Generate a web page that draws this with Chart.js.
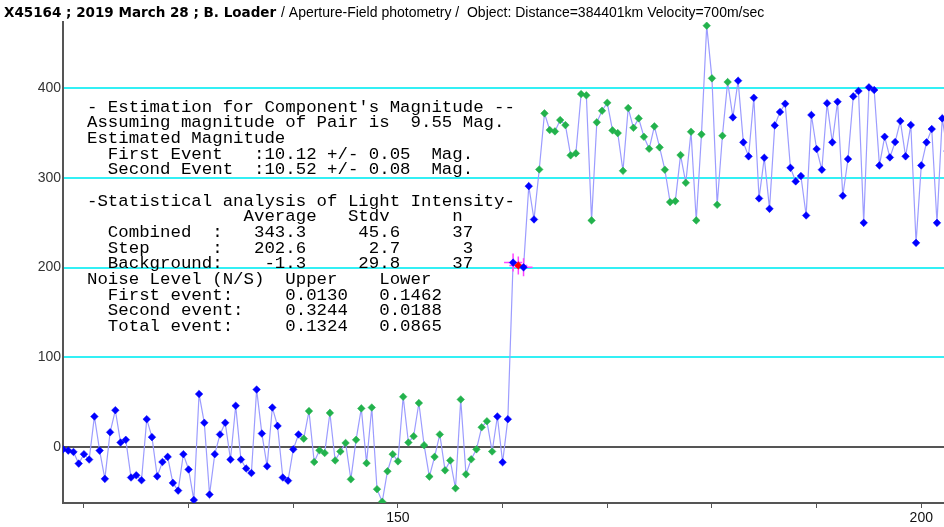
<!DOCTYPE html>
<html>
<head>
<meta charset="utf-8">
<script src="https://cdn.jsdelivr.net/npm/chart.js@4.4.1/dist/chart.umd.min.js"></script>
<style>
html, body { margin: 0; padding: 0; background: #fff; }
#wrap { position: relative; width: 944px; height: 527px; }
</style>
</head>
<body>
<div id="wrap"><canvas id="chart"></canvas></div>
<script>
// frame numbers (x) of every sample
const frames = [
    118, 118.5, 119, 119.5, 120, 120.5, 121, 121.5, 122, 122.5,
    123, 123.5, 124, 124.5, 125, 125.5, 126, 126.5, 127, 127.5,
    128, 128.5, 129, 129.5, 130, 130.5, 131, 131.5, 132, 132.5,
    133, 133.5, 134, 134.5, 135, 135.5, 136, 136.5, 137, 137.5,
    138, 138.5, 139, 139.5, 140, 140.5, 141, 141.5, 142, 142.5,
    143, 143.5, 144, 144.5, 145, 145.5, 146, 146.5, 147, 147.5,
    148, 148.5, 149, 149.5, 150, 150.5, 151, 151.5, 152, 152.5,
    153, 153.5, 154, 154.5, 155, 155.5, 156, 156.5, 157, 157.5,
    158, 158.5, 159, 159.5, 160, 160.5, 161, 161.5, 162, 162.5,
    163, 163.5, 164, 164.5, 165, 165.5, 166, 166.5, 167, 167.5,
    168, 168.5, 169, 169.5, 170, 170.5, 171, 171.5, 172, 172.5,
    173, 173.5, 174, 174.5, 175, 175.5, 176, 176.5, 177, 177.5,
    178, 178.5, 179, 179.5, 180, 180.5, 181, 181.5, 182, 182.5,
    183, 183.5, 184, 184.5, 185, 185.5, 186, 186.5, 187, 187.5,
    188, 188.5, 189, 189.5, 190, 190.5, 191, 191.5, 192, 192.5,
    193, 193.5, 194, 194.5, 195, 195.5, 196, 196.5, 197, 197.5,
    198, 198.5, 199, 199.5, 200, 200.5, 201, 201.5, 202, 202.5
];

// light intensity, split in the groups the program colours
const preEvent = [
    -2.6, -4, -5.5, -18.5, -8, -14, 34, -4, -35.5, 16.4,
    41, 5, 8, -34, -31.5, -37, 31, 11, -32.7, -16.7,
    -11, -40, -48.6, -8, -25, -59, 59, 27, -53, -8,
    14, 27, -14, 46, -14, -24, -29, 64, 15, -21.5,
    44, 23.5, -34, -37.5, -2.6, 14
];
const background = [
    9.3, 40, -16.7, -3.7, -6.7, 38, -15, -5, 4.5, -36,
    8, 43, -18, 44, -47, -61, -27, -8, -16, 56,
    5, 12, 49, 2, -33, -11, 14, -26, -15, -46,
    53, -30.5, -13.7, -2.6, 22, 28.7, -5
];
const approach = [34, -17, 31];
const step = [205.5, 202.3, 200.2];
const rise = [290.7, 253.6];
const combined = [
    309.3, 371.8, 353.2, 351.7, 364.3, 358.7, 325, 327.2, 393.3, 391.9,
    252.5, 361.8, 374.7, 383.6, 352.8, 349.8, 307.8, 377.7, 355.7, 366.2,
    345.7, 332.3, 357.3, 333.9, 309, 272.9, 274, 325.3, 294.4, 351.3,
    252.5, 348.4, 469.5, 410.8, 269.9, 346.8, 406.7
];
const postEvent = [
    367.3, 408.2, 339.5, 323.9, 389.2, 277, 322.3, 265.4, 358.4, 373.3,
    382.5, 311.1, 296, 302, 258, 370, 332, 309, 383, 339.5,
    384.7, 280, 320.8, 390.7, 396.7, 249.8, 400.8, 397.8, 313.8, 345.7,
    322.7, 339.8, 363.2, 323.9, 358.8, 227.5, 313.8, 339.5, 354.3, 249.8,
    366.2, 329.8
];

const xTickValues = [120, 130, 140, 150, 160, 170, 180, 190, 200];
const xTickLabels = [150, 200];
const yTickValues = [0, 100, 200, 300, 400];

const titleBold = "X45164 ; 2019 March 28 ; B. Loader";
const titleRest = " / Aperture-Field photometry /  Object: Distance=384401km Velocity=700m/sec";

const report = [
    "- Estimation for Component's Magnitude --",
    "Assuming magnitude of Pair is  9.55 Mag.",
    "Estimated Magnitude",
    "  First Event   :10.12 +/- 0.05  Mag.",
    "  Second Event  :10.52 +/- 0.08  Mag.",
    "",
    "-Statistical analysis of Light Intensity-",
    "               Average   Stdv      n",
    "  Combined  :   343.3     45.6     37",
    "  Step      :   202.6      2.7      3",
    "  Background:    -1.3     29.8     37",
    "Noise Level (N/S)  Upper    Lower",
    "  First event:     0.0130   0.1462",
    "  Second event:    0.3244   0.0188",
    "  Total event:     0.1324   0.0865"
];

const BLUE = "#0000ff", GREEN = "#22b24c", RED = "#ff0000";

const intensity = [].concat(preEvent, background, approach, step, rise, combined, postEvent);
const points = frames.map((f, i) => ({ x: f, y: intensity[i] }));

let cursor = 0;
const take = arr => {
    const part = points.slice(cursor, cursor + arr.length);
    cursor += arr.length;
    return part;
};

const marker = (data, color) => ({
    data: data,
    showLine: false,
    pointStyle: "rectRot",
    pointRadius: 3.8,
    pointBackgroundColor: color,
    pointBorderColor: color,
    pointBorderWidth: 0.5,
    order: 1
});

const prePts = take(preEvent),
    bgPts = take(background),
    apPts = take(approach),
    stepPts = take(step),
    risePts = take(rise),
    combPts = take(combined),
    postPts = take(postEvent);

const header = {
    id: "header",
    afterDraw(chart) {
        const ctx = chart.ctx;
        ctx.save();
        ctx.fillStyle = "#000";
        ctx.textBaseline = "alphabetic";
        ctx.font = 'bold 13.5px "DejaVu Sans"';
        ctx.fillText(titleBold, 4, 17);
        const w = ctx.measureText(titleBold).width;
        ctx.font = '14px "Liberation Sans"';
        ctx.fillText(titleRest, 5 + w, 17);
        ctx.restore();
    }
};

const reportBox = {
    id: "reportBox",
    beforeDatasetsDraw(chart) {
        const ctx = chart.ctx;
        ctx.save();
        ctx.fillStyle = "#000";
        ctx.textBaseline = "alphabetic";
        ctx.font = '17.4px "Liberation Mono"';
        report.forEach((line, i) => {
            ctx.fillText(line, 87, 111.7 + i * 15.65);
        });
        ctx.restore();
    }
};

Chart.defaults.font.family = '"Liberation Sans", Arial, sans-serif';

new Chart(document.getElementById("chart"), {
    type: "scatter",
    data: {
        datasets: [
            marker(prePts, BLUE),
            marker(bgPts, GREEN),
            marker(apPts, BLUE),
            marker(stepPts, [BLUE, RED, BLUE]),
            marker(risePts, BLUE),
            marker(combPts, GREEN),
            marker(postPts, BLUE),
            {
                data: stepPts,
                showLine: false,
                pointStyle: "cross",
                pointRadius: 9,
                pointBorderColor: "#ff44ff",
                pointBorderWidth: 1.5,
                order: 2
            },
            {
                data: points,
                showLine: true,
                borderColor: "#9c9cff",
                borderWidth: 1.2,
                pointRadius: 0,
                tension: 0,
                order: 3
            }
        ]
    },
    options: {
        responsive: true,
        maintainAspectRatio: false,
        animation: false,
        layout: { autoPadding: false, padding: { top: 22, right: 0, left: 0, bottom: 0 } },
        plugins: {
            legend: { display: false },
            tooltip: { enabled: false }
        },
        scales: {
            x: {
                type: "linear",
                min: 118,
                max: 202.17,
                afterBuildTicks: s => { s.ticks = xTickValues.map(v => ({ value: v })); },
                afterFit: s => {
                    s.height = 24;
                    s.paddingLeft = 0;
                    s.paddingRight = 0;
                },
                ticks: {
                    autoSkip: false,
                    maxRotation: 0,
                    padding: 2,
                    color: "#111",
                    font: { size: 14 },
                    callback: v => xTickLabels.includes(v) ? String(v) : ""
                },
                grid: { drawOnChartArea: false, drawTicks: true, tickLength: 5, color: "#555", lineWidth: 1 },
                border: { color: "#555", width: 2 }
            },
            y: {
                min: -62.4,
                max: 473.6,
                afterBuildTicks: s => { s.ticks = yTickValues.map(v => ({ value: v })); },
                afterFit: s => {
                    s.width = 63;
                    s.paddingTop = 0;
                    s.paddingBottom = 0;
                },
                ticks: { padding: 2, color: "#333", font: { size: 14 } },
                grid: {
                    drawTicks: false,
                    lineWidth: 2,
                    color: c => (c.tick && c.tick.value === 0) ? "#555" : "#33f0f5"
                },
                border: { color: "#555", width: 2 }
            }
        }
    },
    plugins: [header, reportBox]
});
</script>
</body>
</html>
